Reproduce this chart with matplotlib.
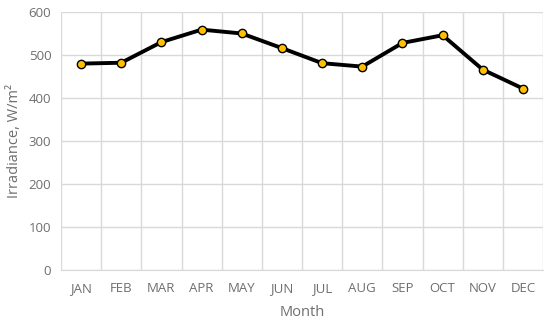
import matplotlib
matplotlib.use("Agg")
import matplotlib.pyplot as plt
import numpy as np

months = ["JAN", "FEB", "MAR", "APR", "MAY", "JUN", "JUL", "AUG", "SEP", "OCT", "NOV", "DEC"]
irradiance = [480, 482, 530, 559, 550, 516, 481, 473, 528, 546, 466, 422]

plt.rcParams['font.family'] = ['Open Sans', 'DejaVu Sans']
txt = '#6e6e6e'
grid = '#d9d9d9'

fig = plt.figure(figsize=(5.5, 3.22), dpi=100)
ax = fig.add_axes([61/550, 1-270/322, (543-61)/550, (270-12)/322])

x = np.arange(1, len(months)+1)
ax.plot(x, irradiance, color='black', lw=2.8, marker='o', ms=6,
        mfc='#ffc000', mec='black', mew=1.0, zorder=3, clip_on=False)

ax.set_xlim(0.5, 12.5)
ax.set_ylim(0, 600)
ax.set_yticks(np.arange(0, 601, 100))
ax.set_xticks(x)
ax.set_xticklabels(months)
ax.set_xticks(np.arange(0.5, 12.6, 1), minor=True)
ax.grid(False)
ax.grid(True, which='minor', axis='x', color=grid, lw=1)
ax.grid(True, which='major', axis='y', color=grid, lw=1)
for s in ax.spines.values():
    s.set_visible(False)
ax.spines['bottom'].set_visible(True)
ax.spines['bottom'].set_color(grid)
ax.tick_params(which='both', length=0, colors=txt, labelsize=9.5)
ax.tick_params(axis='x', pad=9)
ax.tick_params(axis='y', pad=7)
ax.set_axisbelow(True)

ax.set_xlabel('Month', color=txt, fontsize=10.5, labelpad=7)
ax.set_ylabel('Irradiance, W/m²', color=txt, fontsize=10.5, labelpad=5)

fig.savefig('out.png', dpi=100)
